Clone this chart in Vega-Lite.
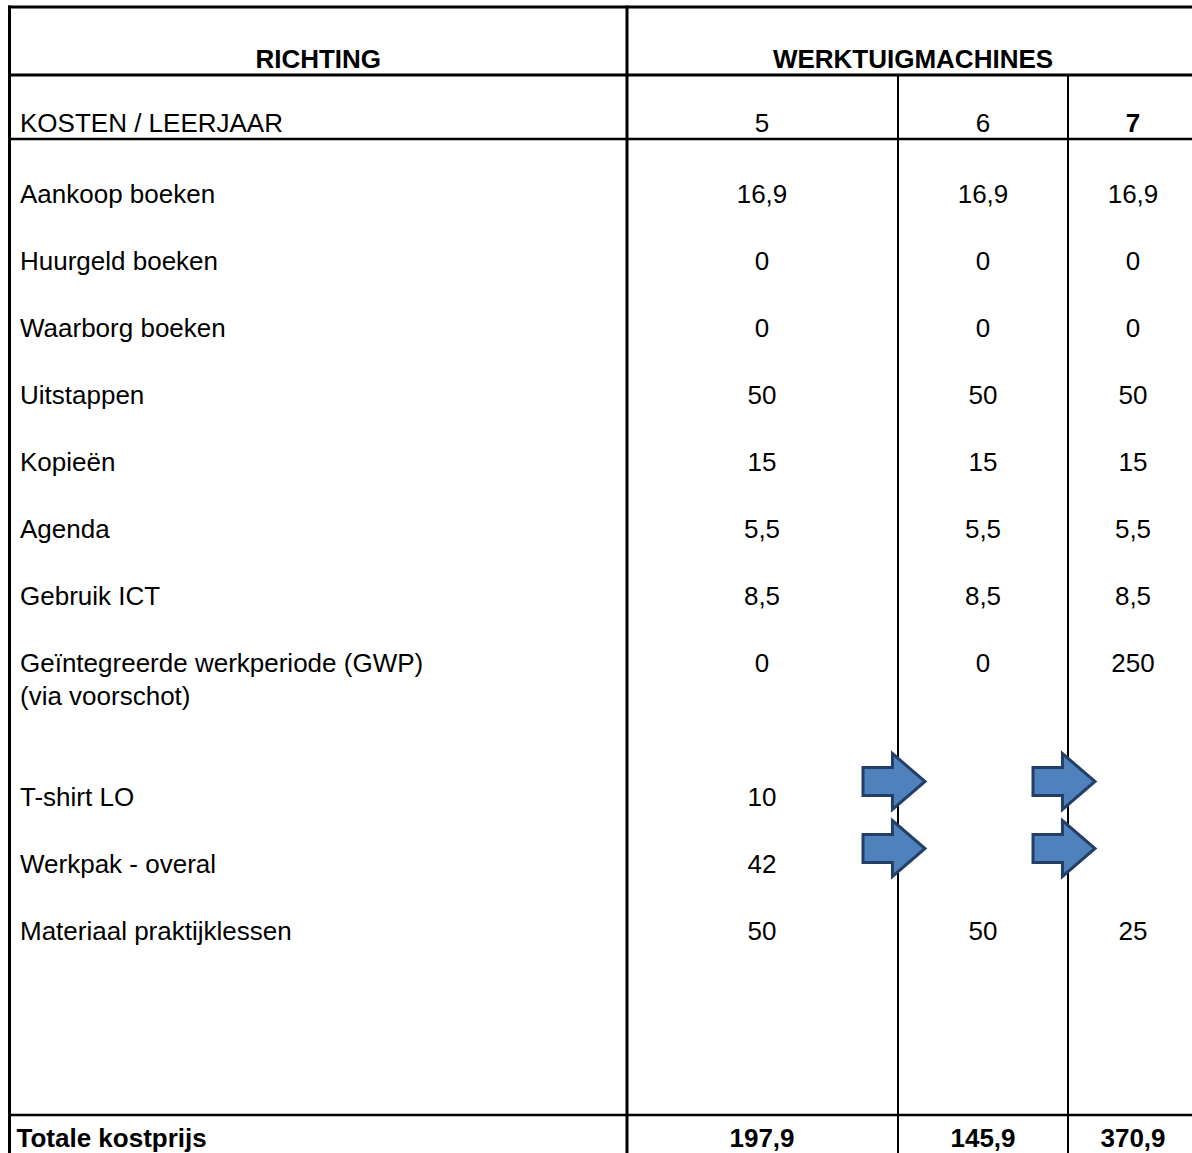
{
  "$schema": "https://vega.github.io/schema/vega-lite/v6.json",
  "width": 1192,
  "height": 1153,
  "padding": 0,
  "autosize": {"type": "none"},
  "background": "white",
  "config": {
    "view": {"stroke": null},
    "locale": {"number": {"decimal": ",", "thousands": ".", "grouping": [3], "currency": ["€ ", ""]}},
    "text": {"font": "Liberation Sans", "fontSize": 26, "color": "black"}
  },
  "datasets": {
    "posten": [
      {"post": "KOSTEN / LEERJAAR", "rij": -1},
      {"post": "Aankoop boeken", "rij": 0},
      {"post": "Huurgeld boeken", "rij": 1},
      {"post": "Waarborg boeken", "rij": 2},
      {"post": "Uitstappen", "rij": 3},
      {"post": "Kopieën", "rij": 4},
      {"post": "Agenda", "rij": 5},
      {"post": "Gebruik ICT", "rij": 6},
      {"post": "Geïntegreerde werkperiode (GWP)\n(via voorschot)", "rij": 7},
      {"post": "T-shirt LO", "rij": 9},
      {"post": "Werkpak - overal", "rij": 10},
      {"post": "Materiaal praktijklessen", "rij": 11},
      {"post": "Totale kostprijs", "rij": 14}
    ],
    "kosten": [
      {"post": "Aankoop boeken", "leerjaar": 5, "bedrag": 16.9},
      {"post": "Aankoop boeken", "leerjaar": 6, "bedrag": 16.9},
      {"post": "Aankoop boeken", "leerjaar": 7, "bedrag": 16.9},
      {"post": "Huurgeld boeken", "leerjaar": 5, "bedrag": 0},
      {"post": "Huurgeld boeken", "leerjaar": 6, "bedrag": 0},
      {"post": "Huurgeld boeken", "leerjaar": 7, "bedrag": 0},
      {"post": "Waarborg boeken", "leerjaar": 5, "bedrag": 0},
      {"post": "Waarborg boeken", "leerjaar": 6, "bedrag": 0},
      {"post": "Waarborg boeken", "leerjaar": 7, "bedrag": 0},
      {"post": "Uitstappen", "leerjaar": 5, "bedrag": 50},
      {"post": "Uitstappen", "leerjaar": 6, "bedrag": 50},
      {"post": "Uitstappen", "leerjaar": 7, "bedrag": 50},
      {"post": "Kopieën", "leerjaar": 5, "bedrag": 15},
      {"post": "Kopieën", "leerjaar": 6, "bedrag": 15},
      {"post": "Kopieën", "leerjaar": 7, "bedrag": 15},
      {"post": "Agenda", "leerjaar": 5, "bedrag": 5.5},
      {"post": "Agenda", "leerjaar": 6, "bedrag": 5.5},
      {"post": "Agenda", "leerjaar": 7, "bedrag": 5.5},
      {"post": "Gebruik ICT", "leerjaar": 5, "bedrag": 8.5},
      {"post": "Gebruik ICT", "leerjaar": 6, "bedrag": 8.5},
      {"post": "Gebruik ICT", "leerjaar": 7, "bedrag": 8.5},
      {"post": "Geïntegreerde werkperiode (GWP)\n(via voorschot)", "leerjaar": 5, "bedrag": 0},
      {"post": "Geïntegreerde werkperiode (GWP)\n(via voorschot)", "leerjaar": 6, "bedrag": 0},
      {"post": "Geïntegreerde werkperiode (GWP)\n(via voorschot)", "leerjaar": 7, "bedrag": 250},
      {"post": "T-shirt LO", "leerjaar": 5, "bedrag": 10},
      {"post": "Werkpak - overal", "leerjaar": 5, "bedrag": 42},
      {"post": "Materiaal praktijklessen", "leerjaar": 5, "bedrag": 50},
      {"post": "Materiaal praktijklessen", "leerjaar": 6, "bedrag": 50},
      {"post": "Materiaal praktijklessen", "leerjaar": 7, "bedrag": 25},
      {"post": "Totale kostprijs", "leerjaar": 5, "bedrag": 197.9},
      {"post": "Totale kostprijs", "leerjaar": 6, "bedrag": 145.9},
      {"post": "Totale kostprijs", "leerjaar": 7, "bedrag": 370.9}
    ],
    "pijlen": [
      {"post": "T-shirt LO", "kolomgrens": 5.5},
      {"post": "T-shirt LO", "kolomgrens": 6.5},
      {"post": "Werkpak - overal", "kolomgrens": 5.5},
      {"post": "Werkpak - overal", "kolomgrens": 6.5}
    ]
  },
  "layer": [
    {
      "data": {"values": [{"grens": -2.5}, {"grens": -1.5}]},
      "mark": {"type": "rule", "strokeWidth": 3, "color": "black", "strokeCap": "square"},
      "encoding": {
        "y": {"field": "grens", "type": "quantitative", "axis": null,
              "scale": {"domain": [-2.5, -2, -1.5, -1, -0.5, 0, 11, 13.5, 14, 14.5], "range": [7, 60, 75, 124, 139, 194.5, 931.5, 1115, 1139, 1165], "nice": false, "zero": false}},
        "x": {"datum": 0, "type": "quantitative", "axis": null,
              "scale": {"domain": [0, 4.5, 5, 5.5, 6, 6.5, 7, 7.5], "range": [9.5, 627, 762, 898, 983, 1068, 1133, 1199], "nice": false, "zero": false}},
        "x2": {"datum": 7.5}
      }
    },
    {
      "data": {"values": [{"grens": -0.5}, {"grens": 13.5}]},
      "mark": {"type": "rule", "strokeWidth": 2.5, "color": "black", "strokeCap": "square"},
      "encoding": {
        "y": {"field": "grens", "type": "quantitative", "axis": null},
        "x": {"datum": 0, "type": "quantitative", "axis": null},
        "x2": {"datum": 7.5}
      }
    },
    {
      "data": {"values": [{"kolomgrens": 0}, {"kolomgrens": 4.5}]},
      "mark": {"type": "rule", "strokeWidth": 3, "color": "black", "strokeCap": "square"},
      "encoding": {
        "x": {"field": "kolomgrens", "type": "quantitative", "axis": null},
        "y": {"datum": -2.5, "type": "quantitative", "axis": null},
        "y2": {"datum": 14.5}
      }
    },
    {
      "data": {"values": [{"kolomgrens": 5.5}, {"kolomgrens": 6.5}]},
      "mark": {"type": "rule", "strokeWidth": 2, "color": "black"},
      "encoding": {
        "x": {"field": "kolomgrens", "type": "quantitative", "axis": null},
        "y": {"datum": -1.5, "type": "quantitative", "axis": null},
        "y2": {"datum": 14.5}
      }
    },
    {
      "data": {"name": "posten"},
      "transform": [{"filter": "datum.post !== 'Totale kostprijs'"}],
      "mark": {"type": "text", "align": "left", "baseline": "alphabetic", "dx": 10.5, "dy": 8, "lineBreak": "\n", "lineHeight": 33},
      "encoding": {
        "x": {"datum": 0, "type": "quantitative", "axis": null},
        "y": {"field": "rij", "type": "quantitative", "axis": null},
        "text": {"field": "post", "type": "nominal"}
      }
    },
    {
      "data": {"name": "posten"},
      "transform": [{"filter": "datum.post === 'Totale kostprijs'"}],
      "mark": {"type": "text", "align": "left", "baseline": "alphabetic", "dx": 7, "dy": 8, "fontWeight": "bold"},
      "encoding": {
        "x": {"datum": 0, "type": "quantitative", "axis": null},
        "y": {"field": "rij", "type": "quantitative", "axis": null},
        "text": {"field": "post", "type": "nominal"}
      }
    },
    {
      "data": {"name": "kosten"},
      "transform": [
        {"filter": "datum.post !== 'Totale kostprijs'"},
        {"lookup": "post", "from": {"data": {"name": "posten"}, "key": "post", "fields": ["rij"]}}
      ],
      "mark": {"type": "text", "align": "center", "baseline": "alphabetic", "dy": 8},
      "encoding": {
        "x": {"field": "leerjaar", "type": "quantitative", "axis": null},
        "y": {"field": "rij", "type": "quantitative", "axis": null},
        "text": {"field": "bedrag", "type": "quantitative", "format": "~g"}
      }
    },
    {
      "data": {"name": "kosten"},
      "transform": [
        {"filter": "datum.post === 'Totale kostprijs'"},
        {"lookup": "post", "from": {"data": {"name": "posten"}, "key": "post", "fields": ["rij"]}}
      ],
      "mark": {"type": "text", "align": "center", "baseline": "alphabetic", "dy": 8, "fontWeight": "bold"},
      "encoding": {
        "x": {"field": "leerjaar", "type": "quantitative", "axis": null},
        "y": {"field": "rij", "type": "quantitative", "axis": null},
        "text": {"field": "bedrag", "type": "quantitative", "format": "~g"}
      }
    },
    {
      "data": {"values": [{"leerjaar": 5}, {"leerjaar": 6}]},
      "mark": {"type": "text", "align": "center", "baseline": "alphabetic", "dy": 8},
      "encoding": {
        "x": {"field": "leerjaar", "type": "quantitative", "axis": null},
        "y": {"datum": -1, "type": "quantitative", "axis": null},
        "text": {"field": "leerjaar", "type": "nominal"}
      }
    },
    {
      "data": {"values": [{"leerjaar": 7}]},
      "mark": {"type": "text", "align": "center", "baseline": "alphabetic", "dy": 8, "fontWeight": "bold"},
      "encoding": {
        "x": {"field": "leerjaar", "type": "quantitative", "axis": null},
        "y": {"datum": -1, "type": "quantitative", "axis": null},
        "text": {"field": "leerjaar", "type": "nominal"}
      }
    },
    {
      "data": {"values": [{"kop": "RICHTING"}]},
      "mark": {"type": "text", "align": "center", "baseline": "alphabetic", "dy": 8, "fontWeight": "bold"},
      "encoding": {
        "x": {"datum": 2.25, "type": "quantitative", "axis": null},
        "y": {"datum": -2, "type": "quantitative", "axis": null},
        "text": {"field": "kop", "type": "nominal"}
      }
    },
    {
      "data": {"values": [{"kop": "WERKTUIGMACHINES"}]},
      "mark": {"type": "text", "align": "center", "baseline": "alphabetic", "dy": 8, "dx": -70, "fontWeight": "bold"},
      "encoding": {
        "x": {"datum": 6, "type": "quantitative", "axis": null},
        "y": {"datum": -2, "type": "quantitative", "axis": null},
        "text": {"field": "kop", "type": "nominal"}
      }
    },
    {
      "data": {"name": "pijlen"},
      "transform": [{"lookup": "post", "from": {"data": {"name": "posten"}, "key": "post", "fields": ["rij"]}}],
      "mark": {
        "type": "point",
        "shape": "M -1 -0.45 L -0.05 -0.45 L -0.05 -0.9 L 1 0 L -0.05 0.9 L -0.05 0.45 L -1 0.45 Z",
        "size": 3844,
        "filled": true,
        "fill": "#4F81BD",
        "stroke": "#243F66",
        "strokeWidth": 3,
        "strokeJoin": "miter",
        "opacity": 1,
        "fillOpacity": 1,
        "strokeOpacity": 1,
        "xOffset": -4,
        "yOffset": -16
      },
      "encoding": {
        "x": {"field": "kolomgrens", "type": "quantitative", "axis": null},
        "y": {"field": "rij", "type": "quantitative", "axis": null}
      }
    }
  ]
}
